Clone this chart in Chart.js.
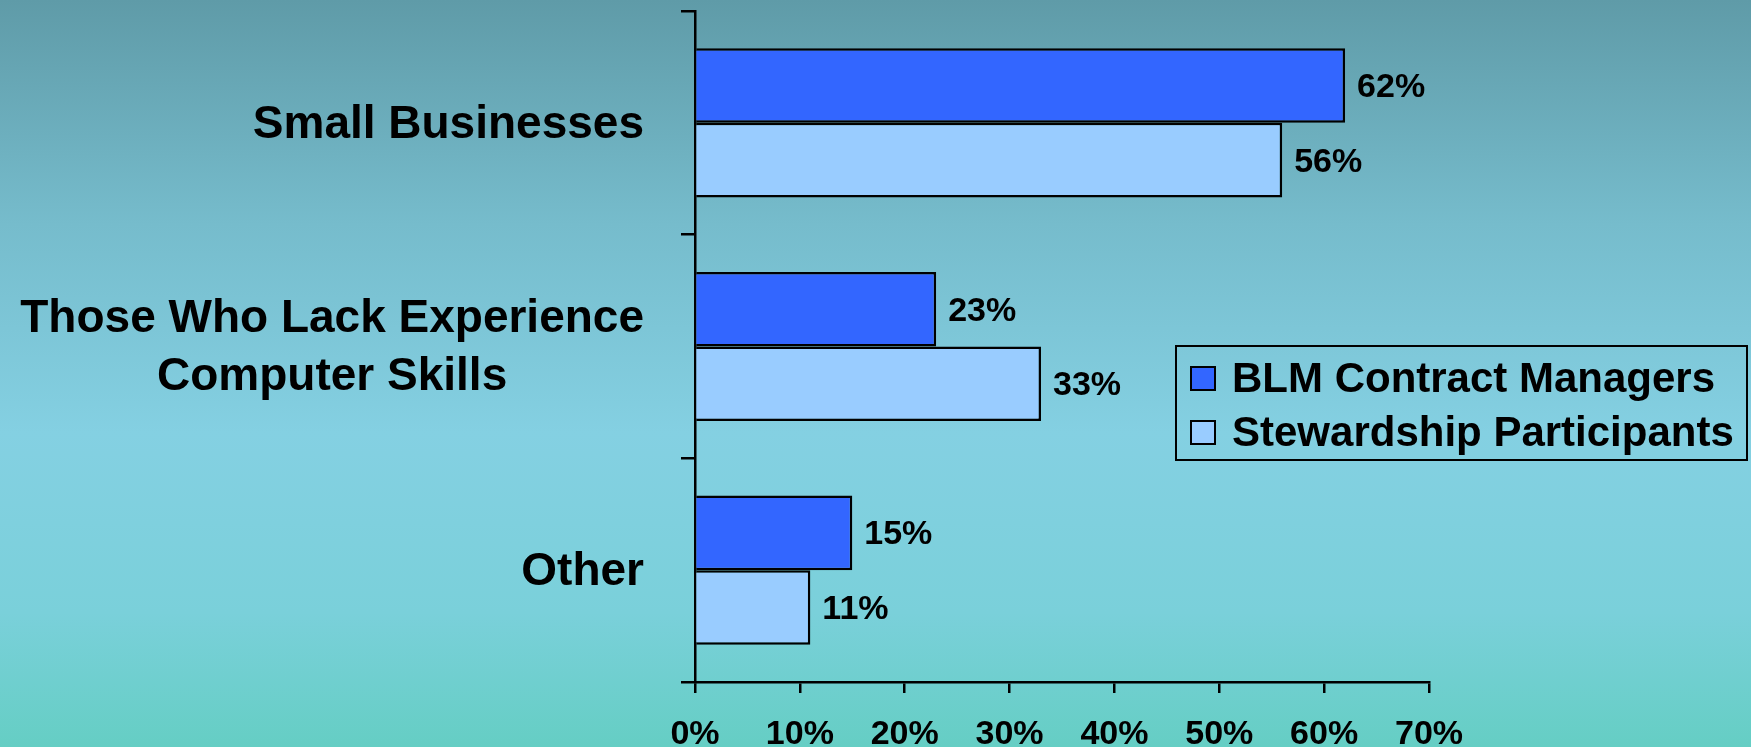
<!DOCTYPE html>
<html>
<head>
<meta charset="utf-8">
<script src="https://cdn.jsdelivr.net/npm/chart.js@4/dist/chart.umd.min.js"></script>
<style>
    html, body {
        margin: 0;
        padding: 0;
        width: 1751px;
        height: 747px;
        overflow: hidden;
    }
    body {
        background: linear-gradient(to bottom, #5f9ba8 0%, #76bccc 30%, #84d0e2 58%, #7ad0da 82%, #65cec4 100%);
    }
</style>
</head>
<body>
<canvas id="myChartFreins" width="1751" height="747"></canvas>
<script>
//! Les données.

const categories = ['Small Businesses', ['Those Who Lack Experience', 'Computer Skills'], 'Other'];
const valeursBlm = [62, 23, 15];
const valeursStewardship = [56, 33, 11];
const nomsSeries = ['BLM Contract Managers', 'Stewardship Participants'];
const axeXMax = 70;
const axeXPas = 10;

//! --------------------------------------------------

const policeGras = (taille) => 'bold ' + taille + 'px "Liberation Sans", Arial, sans-serif';

//? Etiquettes des catégories (lignes centrées, bloc aligné à droite).

const pluginEtiquettesY = {
    id: 'etiquettesY',
    afterDraw(chart) {
        const ctx = chart.ctx;
        const scaleY = chart.scales.y;
        const bordDroit = 644;
        const interligne = 58;

        ctx.save();
        ctx.font = policeGras(46);
        ctx.fillStyle = '#000';
        ctx.textAlign = 'center';
        ctx.textBaseline = 'middle';

        chart.data.labels.forEach((label, index) => {
            const lignes = Array.isArray(label) ? label : [label];
            const largeur = Math.max(...lignes.map((l) => ctx.measureText(l).width));
            const centreX = bordDroit - largeur / 2;
            const centreY = scaleY.getPixelForTick(index);
            lignes.forEach((ligne, i) => {
                const y = centreY + (i - (lignes.length - 1) / 2) * interligne;
                ctx.fillText(ligne, centreX, y + 2);
            });
        });
        ctx.restore();
    },
};

//? Valeurs au bout des barres.

const pluginValeurs = {
    id: 'valeurs',
    afterDatasetsDraw(chart) {
        const ctx = chart.ctx;
        ctx.save();
        ctx.font = policeGras(34);
        ctx.fillStyle = '#000';
        ctx.textAlign = 'left';
        ctx.textBaseline = 'middle';

        chart.data.datasets.forEach((dataset, di) => {
            const meta = chart.getDatasetMeta(di);
            meta.data.forEach((barre, i) => {
                ctx.fillText(dataset.data[i] + '%', barre.x + 12, barre.y + 2);
            });
        });
        ctx.restore();
    },
};

//? Légende encadrée dans la zone du graphique.

const pluginLegende = {
    id: 'legendeCadre',
    afterDraw(chart) {
        const ctx = chart.ctx;
        const gauche = 1176;
        const haut = 346;
        const largeur = 571;
        const hauteur = 114;
        const lignesY = [378, 432];

        ctx.save();
        ctx.strokeStyle = '#000';
        ctx.lineWidth = 2;
        ctx.strokeRect(gauche, haut, largeur, hauteur);

        ctx.font = policeGras(42);
        ctx.textAlign = 'left';
        ctx.textBaseline = 'middle';

        chart.data.datasets.forEach((dataset, i) => {
            const y = lignesY[i];
            ctx.fillStyle = dataset.backgroundColor;
            ctx.fillRect(1191, y - 11, 24, 23);
            ctx.strokeStyle = '#000';
            ctx.lineWidth = 2;
            ctx.strokeRect(1191, y - 11, 24, 23);
            ctx.fillStyle = '#000';
            ctx.fillText(dataset.label, 1232, y + 2);
        });
        ctx.restore();
    },
};

//? Construction du graphique.

const constructionDuGraphique = () => {
    const ctx = document.getElementById('myChartFreins').getContext('2d');

    const data = {
        labels: categories,
        datasets: [
            {
                label: nomsSeries[0],
                data: valeursBlm,
                backgroundColor: '#3366ff',
                borderColor: '#000',
                borderWidth: 2.5,
                categoryPercentage: 0.667,
                barPercentage: 1,
            },
            {
                label: nomsSeries[1],
                data: valeursStewardship,
                backgroundColor: '#99ccff',
                borderColor: '#000',
                borderWidth: 2.5,
                categoryPercentage: 0.667,
                barPercentage: 1,
            },
        ],
    };

    const options = {
        indexAxis: 'y',
        responsive: false,
        animation: false,
        devicePixelRatio: 1,
        layout: {
            padding: { left: 0, right: 322, top: 11, bottom: 0 },
        },
        plugins: {
            legend: { display: false },
            tooltip: { enabled: false },
        },
        scales: {
            x: {
                min: 0,
                max: axeXMax,
                border: { color: '#000', width: 2.5 },
                grid: {
                    drawOnChartArea: false,
                    color: '#000',
                    lineWidth: 2.5,
                    tickLength: 11,
                },
                ticks: {
                    stepSize: axeXPas,
                    color: '#000',
                    padding: 21,
                    maxRotation: 0,
                    font: { family: '"Liberation Sans", Arial, sans-serif', size: 34, weight: 'bold' },
                    callback: (valeur) => valeur + '%',
                },
                afterFit: (scale) => {
                    scale.height = 65;
                },
            },
            y: {
                border: { color: '#000', width: 2.5 },
                grid: {
                    drawOnChartArea: false,
                    color: '#000',
                    lineWidth: 2.5,
                    tickLength: 14,
                    offset: true,
                },
                ticks: { display: false },
                afterFit: (scale) => {
                    scale.width = 695;
                },
            },
        },
    };

    new Chart(ctx, {
        type: 'bar',
        data,
        options,
        plugins: [pluginValeurs, pluginEtiquettesY, pluginLegende],
    });
};

constructionDuGraphique();
</script>
</body>
</html>
